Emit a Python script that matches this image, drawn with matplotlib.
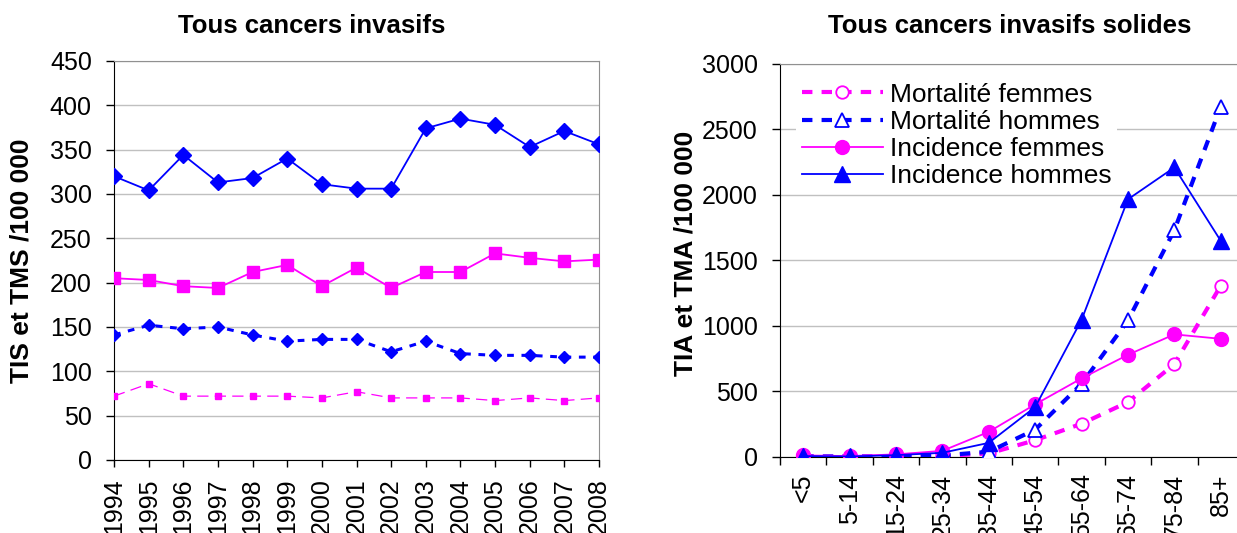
import matplotlib
matplotlib.use("Agg")
import matplotlib.pyplot as plt

plt.rcParams['font.family'] = ['Liberation Sans', 'DejaVu Sans']

# left chart: taux standardises par annee
years = list(range(1994, 2009))
inc_h = [320, 304, 344, 313, 318, 340, 311, 306, 306, 374, 385, 378, 353, 371, 356]
inc_f = [205, 203, 196, 194, 212, 220, 196, 217, 194, 212, 212, 233, 228, 224, 226]
mort_h = [141, 152, 148, 150, 141, 134, 136, 136, 122, 134, 120, 118, 118, 116, 116]
mort_f = [72, 86, 72, 72, 72, 72, 70, 77, 70, 70, 70, 67, 70, 67, 70]

# right chart: taux par age
ages = ['<5', '5-14', '15-24', '25-34', '35-44', '45-54', '55-64', '65-74', '75-84', '85+']
age_mort_f = [1, 1, 2, 5, 25, 126, 252, 417, 707, 1305]
age_mort_h = [3, 1, 3, 10, 38, 207, 556, 1040, 1729, 2672]
age_inc_f = [10, 5, 18, 45, 190, 400, 598, 778, 934, 900]
age_inc_h = [5, 2, 12, 30, 106, 379, 1045, 1965, 2208, 1648]

BLUE = '#0000FF'
MAG = '#FF00FF'
GRID = '#C0C0C0'

fig = plt.figure(figsize=(12.37, 5.33), dpi=100)

# ---- left ----
ax1 = fig.add_axes([0.0922, 0.137, 0.392, 0.7486])
ax1.plot(years, inc_h, color=BLUE, lw=1.3, marker='D', ms=8, zorder=5)
ax1.plot(years, inc_f, color=MAG, lw=1.3, marker='s', ms=9, zorder=5)
ax1.plot(years, mort_h, color=BLUE, lw=2.2, marker='D', ms=6, dashes=(2.2, 2.5), zorder=5)
ax1.plot(years, mort_f, color=MAG, lw=0.9, marker='s', ms=5, dashes=(9, 5), zorder=5)
ax1.set_xlim(1994, 2008)
ax1.set_ylim(0, 450)
ax1.set_yticks(range(0, 451, 50))
ax1.set_xticks(years)
ax1.set_xticklabels([str(y) for y in years], rotation=90, va='top')
ax1.tick_params(axis='x', length=5, pad=8)
ax1.set_ylabel('TIS et TMS /100 000', fontsize=19, fontweight='bold')
ax1.yaxis.set_label_coords(-0.167, 0.5)

# ---- right ----
ax2 = fig.add_axes([0.6306, 0.1431, 0.375, 0.7374])
x = list(range(len(ages)))
ax2.plot(x, age_mort_f, color=MAG, lw=3, dashes=(2.5, 2.2), marker='o', ms=9,
         mfc='white', mec=MAG, mew=1.3, label='Mortalité femmes', zorder=5)
ax2.plot(x, age_mort_h, color=BLUE, lw=3, dashes=(2.5, 2.2), marker='^', ms=10,
         mfc='white', mec=BLUE, mew=1.3, label='Mortalité hommes', zorder=5)
ax2.plot(x, age_inc_f, color=MAG, lw=1.3, marker='o', ms=10, label='Incidence femmes', zorder=5)
ax2.plot(x, age_inc_h, color=BLUE, lw=1.3, marker='^', ms=11, label='Incidence hommes', zorder=5)
ax2.set_xlim(-0.5, len(ages) - 0.5)
ax2.set_ylim(0, 3000)
ax2.set_yticks(range(0, 3001, 500))
ax2.set_xticks(x)
ax2.set_xticklabels(ages, rotation=90, va='top')
ax2.set_xticks([i - 0.5 for i in range(len(ages) + 1)], minor=True)
ax2.tick_params(axis='x', which='major', length=0, pad=12)
ax2.tick_params(axis='x', which='minor', length=6, width=1, direction='out')
ax2.set_ylabel('TIA et TMA /100 000', fontsize=19, fontweight='bold')
ax2.yaxis.set_label_coords(-0.177, 0.518)
leg = ax2.legend(loc='upper left', bbox_to_anchor=(0.035, 0.965), fontsize=19, frameon=True,
                 facecolor='white', edgecolor='none', framealpha=1, fancybox=False,
                 handlelength=3.1, handletextpad=0.25, labelspacing=0.12, borderpad=0.2,
                 borderaxespad=0)
leg.set_zorder(10)

for ax in (ax1, ax2):
    ax.grid(axis='y', color=GRID, lw=1)
    ax.set_axisbelow(True)
    ax.tick_params(axis='both', labelsize=18, direction='out', width=1)
    ax.tick_params(axis='y', length=6, pad=10)
    ax.spines['top'].set_color('#909090')
    ax.spines['right'].set_color('#909090')
    ax.spines['left'].set_color('black')
    ax.spines['bottom'].set_color('black')

# titles, placed like the chart-area titles of the original
fig.text(312 / 1237, 1 - 33 / 533, 'Tous cancers invasifs', fontsize=18.5,
         fontweight='bold', ha='center', va='baseline')
fig.text(1010 / 1237, 1 - 33 / 533, 'Tous cancers invasifs solides', fontsize=18.5,
         fontweight='bold', ha='center', va='baseline')

fig.savefig('out.png', dpi=100)
